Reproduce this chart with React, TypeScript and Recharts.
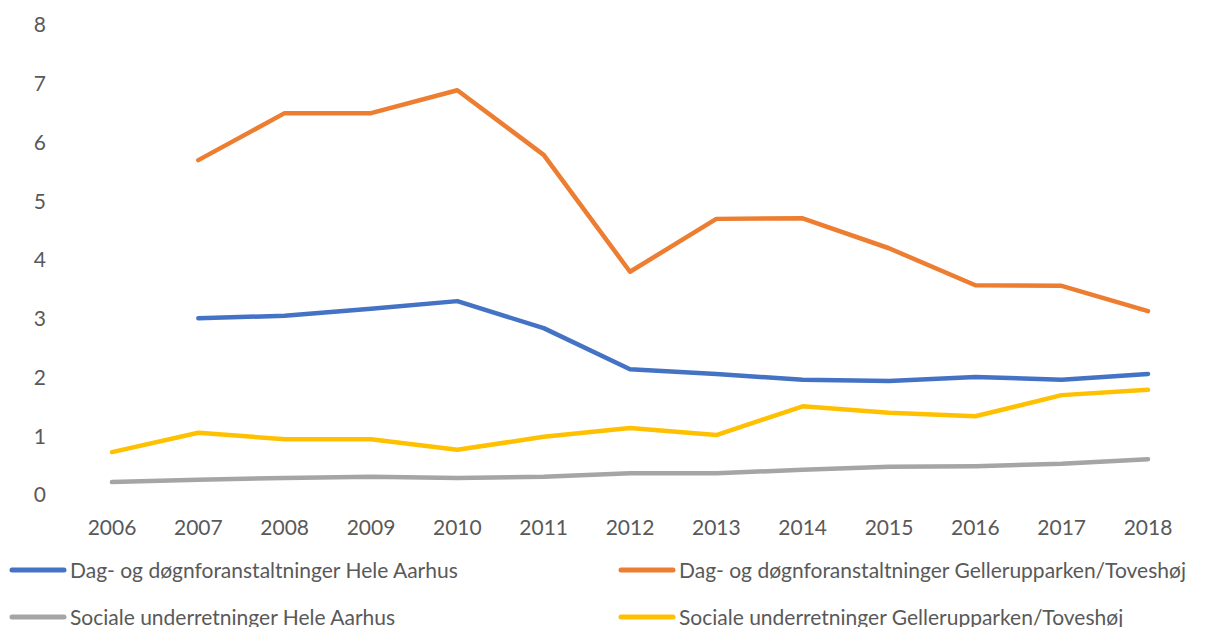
import React from 'react';
import { LineChart, Line, XAxis, YAxis, Legend } from 'recharts';

const years = [2006, 2007, 2008, 2009, 2010, 2011, 2012, 2013, 2014, 2015, 2016, 2017, 2018];
const yTicks = [0, 1, 2, 3, 4, 5, 6, 7, 8];

const dagHeleAarhus = [null, 3.01, 3.05, 3.17, 3.3, 2.84, 2.14, 2.06, 1.96, 1.94, 2.01, 1.96, 2.06];
const dagGellerup = [null, 5.7, 6.5, 6.5, 6.89, 5.79, 3.8, 4.7, 4.71, 4.2, 3.57, 3.56, 3.13];
const socHeleAarhus = [0.22, 0.26, 0.29, 0.31, 0.29, 0.31, 0.37, 0.37, 0.43, 0.48, 0.49, 0.53, 0.61];
const socGellerup = [0.73, 1.06, 0.95, 0.95, 0.77, 0.99, 1.14, 1.02, 1.51, 1.4, 1.34, 1.7, 1.79];

const seriesNames = [
  'Dag- og døgnforanstaltninger Hele Aarhus',
  'Dag- og døgnforanstaltninger Gellerupparken/Toveshøj',
  'Sociale underretninger Hele Aarhus',
  'Sociale underretninger Gellerupparken/Toveshøj',
];
const seriesKeys = ['dagHele', 'dagGellerup', 'socHele', 'socGellerup'];
const seriesColors = ['#4472C4', '#ED7D31', '#A5A5A5', '#FFC000'];

const data = years.map((year, i) => ({
  year,
  dagHele: dagHeleAarhus[i],
  dagGellerup: dagGellerup[i],
  socHele: socHeleAarhus[i],
  socGellerup: socGellerup[i],
}));

const textColor = '#595959';
const fontFamily = 'Lato, "Open Sans", sans-serif';

const CustomLegend = () => {
  const positions = [
    { left: 9, top: 45 },
    { left: 618, top: 45 },
    { left: 9, top: 92 },
    { left: 618, top: 92 },
  ];
  return (
    <div style={{ position: 'relative', width: 1220, height: 102, overflow: 'hidden', fontFamily }}>
      {seriesKeys.map((k, i) => (
        <div
          key={k}
          style={{
            position: 'absolute',
            left: positions[i].left,
            top: positions[i].top,
            transform: 'translateY(-50%)',
            display: 'flex',
            alignItems: 'center',
            whiteSpace: 'nowrap',
          }}
        >
          <svg width={58} height={8} style={{ display: 'block' }}>
            <line x1={3} y1={4} x2={55} y2={4} stroke={seriesColors[i]} strokeWidth={5} strokeLinecap="round" />
          </svg>
          <span style={{ marginLeft: 3, fontSize: 21, color: textColor, lineHeight: '26px' }}>{seriesNames[i]}</span>
        </div>
      ))}
    </div>
  );
};

export default function App() {
  return (
    <div style={{ position: 'absolute', top: 0, left: 0, width: 1220, height: 627, background: '#fff' }}>
      <LineChart
        width={1220}
        height={627}
        data={data}
        margin={{ top: 25, right: 72, left: 0, bottom: 0 }}
        style={{ fontFamily }}
      >
        <XAxis
          dataKey="year"
          type="number"
          domain={[2006, 2018]}
          ticks={years}
          axisLine={false}
          tickLine={false}
          tickMargin={19}
          height={30}
          interval={0}
          tick={{ fill: textColor, fontSize: 21 }}
        />
        <YAxis
          domain={[0, 8]}
          ticks={yTicks}
          axisLine={false}
          tickLine={false}
          width={112}
          tickMargin={60}
          interval={0}
          tick={{ fill: textColor, fontSize: 21 }}
        />
        <Legend
          verticalAlign="bottom"
          content={<CustomLegend />}
          wrapperStyle={{ left: 0, width: 1220, bottom: 0, height: 102 }}
        />
        {seriesKeys.map((k, i) => (
          <Line
            key={k}
            dataKey={k}
            name={seriesNames[i]}
            stroke={seriesColors[i]}
            strokeWidth={4.5}
            strokeLinecap="round"
            strokeLinejoin="round"
            dot={false}
            activeDot={false}
            type="linear"
            isAnimationActive={false}
          />
        ))}
      </LineChart>
    </div>
  );
}
